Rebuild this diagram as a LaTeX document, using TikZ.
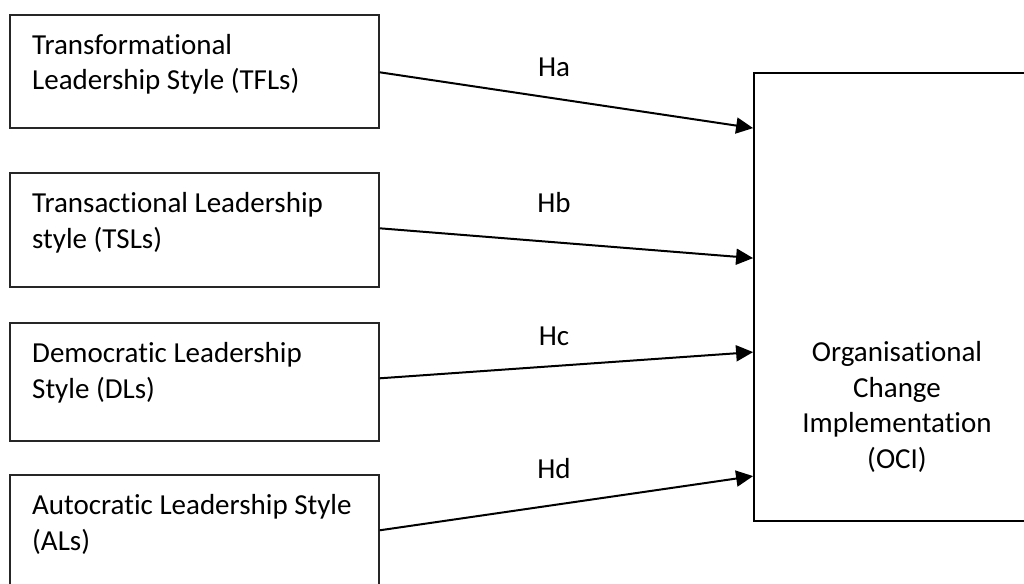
\documentclass[tikz,border=0pt]{standalone}
\usepackage{fontspec}
\setmainfont[Ligatures=NoCommon]{Carlito}
\usetikzlibrary{arrows.meta,calc}
\tikzset{
  srcbox/.style={draw=black!85, line width=1.4pt, rectangle, inner sep=0pt},
  tgtbox/.style={draw=black, line width=1.8pt, rectangle, inner sep=0pt},
  boxtext/.style={anchor=base west, inner sep=0pt, align=left, font=\fontsize{29}{35.5}\selectfont},
  hlabel/.style={anchor=base, inner sep=0pt, font=\fontsize{29}{35.5}\selectfont},
  link/.style={line width=2pt, -{Triangle[length=17pt,width=16pt]}}
}
\begin{document}
\begin{tikzpicture}[x=1pt,y=-1pt]
\useasboundingbox (0,0) rectangle (1024,583);
% source boxes
\node[srcbox, minimum width=369pt, minimum height=113pt] (b1) at (194.5,71.5) {};
\node[srcbox, minimum width=369pt, minimum height=114pt] (b2) at (194.5,230) {};
\node[srcbox, minimum width=369pt, minimum height=118pt] (b3) at (194.5,382) {};
\node[srcbox, minimum width=369pt, minimum height=125pt] (b4) at (194.5,537.5) {};
% target box
\node[tgtbox, minimum width=290pt, minimum height=448pt] (R) at (899,297) {};
% texts (base = baseline of last line)
\node[boxtext] (t1) at (32,90) {Transformational\\Leadership Style (TFLs)};
\node[boxtext] (t2) at (32,248) {Transactional Leadership\\style (TSLs)};
\node[boxtext] (t3) at (32,398) {Democratic Leadership\\Style (DLs)};
\node[boxtext] (t4) at (32,550) {Autocratic Leadership Style\\(ALs)};
\node[anchor=base, inner sep=0pt, align=center, font=\fontsize{29}{35.5}\selectfont] (tr) at (897,468) {Organisational\\Change\\Implementation\\(OCI)};
% connection points
\coordinate (s1) at ($(b1.north east)+(0,58)$);
\coordinate (s2) at ($(b2.north east)+(0,56)$);
\coordinate (s3) at ($(b3.north east)+(0,56)$);
\coordinate (s4) at ($(b4.north east)+(0,56)$);
\coordinate (e1) at ($(R.north west)+(0,56)$);
\coordinate (e2) at ($(R.north west)+(0,186)$);
\coordinate (e3) at ($(R.north west)+(0,280)$);
\coordinate (e4) at ($(R.north west)+(0,404)$);
\draw[link] (s1) -- (e1);
\draw[link] (s2) -- (e2);
\draw[link] (s3) -- (e3);
\draw[link] (s4) -- (e4);
% labels
\node[hlabel] (ha) at (554,77) {Ha};
\node[hlabel] (hb) at (554,212) {Hb};
\node[hlabel] (hc) at (554,345) {Hc};
\node[hlabel] (hd) at (554,478) {Hd};
\end{tikzpicture}
\end{document}
